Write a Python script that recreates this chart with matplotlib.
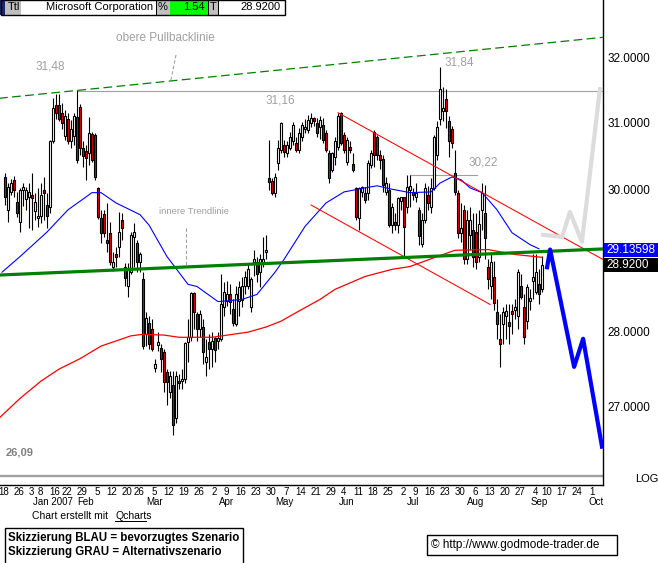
import numpy as np
import pandas as pd
import matplotlib
matplotlib.use('Agg')
import matplotlib.pyplot as plt
from matplotlib.patches import Rectangle
from matplotlib.ticker import NullLocator, NullFormatter

# trading calendar (x axis = trading day index, 0 = 2006-12-18)
holidays = ['2006-12-25', '2007-01-01', '2007-01-02', '2007-01-15', '2007-02-19',
            '2007-04-06', '2007-05-28', '2007-07-04', '2007-09-03']
first_candle = 1  # 2006-12-19

# daily candles Microsoft
opens = [30.19, 29.71, 29.97, 30.15, 29.82, 29.53, 30.00, 29.86, 29.90, 29.93,
         29.70, 29.59, 29.62, 30.00, 29.78, 29.75, 30.72, 31.27, 31.27, 31.15,
         30.80, 31.06, 30.72, 30.80, 31.08, 31.23, 30.62, 30.57, 30.55, 30.83,
         30.81, 30.03, 29.59, 29.65, 29.27, 29.37, 28.89, 29.06, 29.18, 29.57,
         28.89, 28.62, 28.82, 29.32, 29.24, 28.96, 28.72, 27.96, 28.12, 28.03,
         27.51, 27.81, 27.77, 27.72, 27.45, 27.19, 27.28, 26.84, 27.33, 27.33,
         27.36, 27.85, 27.92, 28.53, 28.24, 28.03, 28.06, 27.58, 27.85, 27.76,
         27.91, 27.87, 27.90, 28.33, 28.42, 28.51, 28.31, 28.10, 28.42, 28.43,
         28.62, 28.62, 28.34, 28.97, 28.96, 28.82, 28.95, 29.10, 30.17, 30.13,
         29.96, 30.40, 30.59, 30.66, 30.55, 30.62, 30.72, 30.70, 30.59, 30.79,
         30.90, 30.89, 31.00, 31.05, 31.00, 30.93, 30.97, 30.84, 30.55, 30.29,
         30.49, 30.63, 31.14, 30.81, 30.41, 30.63, 30.38, 30.03, 29.59, 29.97,
         29.96, 29.96, 30.37, 30.86, 30.78, 30.52, 30.46, 29.97, 30.00, 29.49,
         29.53, 29.49, 29.84, 29.89, 29.75, 30.00, 29.96, 29.90, 29.71, 29.22,
         29.56, 29.93, 29.75, 30.03, 30.52, 31.05, 31.18, 31.36, 31.02, 30.90,
         30.25, 29.96, 29.37, 29.71, 29.00, 29.35, 29.42, 29.39, 29.04, 29.71,
         29.66, 28.89, 28.62, 28.75, 28.26, 27.90, 28.10, 28.21, 28.13, 28.28,
         28.30, 28.21, 28.62, 28.33, 28.14, 28.42, 28.69, 28.55, 28.65, 28.58]
highs = [30.25, 30.10, 30.16, 30.20, 29.97, 30.03, 30.10, 30.04, 30.10, 30.25,
         29.96, 30.03, 30.10, 30.19, 29.96, 30.74, 31.38, 31.43, 31.43, 31.30,
         31.19, 31.14, 31.04, 31.14, 31.50, 31.29, 30.72, 30.67, 31.08, 30.86,
         30.84, 30.04, 29.71, 29.71, 29.81, 29.53, 29.10, 29.18, 29.68, 29.66,
         28.95, 28.95, 29.39, 29.52, 29.28, 29.10, 28.82, 28.26, 28.21, 28.17,
         27.63, 27.99, 27.83, 27.76, 27.49, 27.47, 27.47, 27.47, 27.43, 27.49,
         27.86, 28.17, 28.55, 28.55, 28.27, 28.30, 28.17, 27.90, 27.96, 27.99,
         27.93, 27.99, 28.79, 28.68, 28.69, 28.65, 28.44, 28.62, 28.69, 28.75,
         28.83, 28.95, 28.75, 29.14, 29.03, 29.07, 29.32, 29.35, 30.74, 30.17,
         30.25, 30.74, 31.01, 30.74, 30.72, 30.86, 31.01, 30.79, 30.92, 31.01,
         31.06, 31.12, 31.15, 31.08, 31.07, 31.10, 31.07, 30.89, 30.59, 30.56,
         30.79, 31.14, 31.16, 30.86, 30.79, 30.72, 30.55, 30.04, 30.04, 30.06,
         30.04, 30.44, 30.59, 30.89, 30.81, 30.59, 30.52, 30.19, 30.10, 29.81,
         29.66, 29.89, 29.89, 29.90, 30.22, 30.22, 30.03, 30.10, 29.75, 29.66,
         30.10, 30.06, 30.18, 30.81, 31.03, 31.86, 31.55, 31.52, 31.10, 30.95,
         30.59, 30.00, 29.81, 29.78, 29.71, 29.75, 29.66, 29.66, 29.71, 30.10,
         30.07, 29.00, 29.07, 28.98, 28.44, 28.24, 28.34, 28.37, 28.37, 28.37,
         28.44, 28.86, 28.79, 28.51, 28.65, 28.58, 29.07, 29.07, 28.86, 29.05]
lows = [29.78, 29.53, 29.92, 29.90, 29.60, 29.39, 29.76, 29.71, 29.45, 29.42,
        29.56, 29.46, 29.52, 29.56, 29.45, 29.66, 30.69, 31.05, 31.02, 30.90,
        30.74, 30.68, 30.62, 30.67, 30.40, 30.52, 30.34, 30.15, 30.37, 30.41,
        30.15, 29.58, 29.24, 29.32, 29.11, 28.92, 28.84, 28.89, 29.04, 29.28,
        28.62, 28.48, 28.79, 28.89, 28.82, 28.82, 27.76, 27.80, 27.76, 27.74,
        27.45, 27.74, 27.45, 27.19, 27.01, 27.10, 26.62, 26.78, 27.23, 27.23,
        27.30, 27.58, 27.87, 28.03, 27.87, 27.93, 27.56, 27.40, 27.49, 27.52,
        27.58, 27.76, 27.87, 28.21, 28.35, 28.24, 28.07, 28.07, 28.21, 28.33,
        28.51, 28.58, 28.27, 28.76, 28.68, 28.61, 28.89, 29.00, 30.00, 29.93,
        29.90, 30.29, 30.55, 30.49, 30.49, 30.59, 30.67, 30.56, 30.55, 30.72,
        30.84, 30.84, 30.94, 30.95, 30.79, 30.76, 30.70, 30.56, 30.10, 30.26,
        30.37, 30.59, 30.67, 30.55, 30.36, 30.55, 30.27, 29.56, 29.42, 29.90,
        29.81, 29.85, 30.32, 30.34, 30.44, 30.30, 29.97, 29.93, 29.46, 29.37,
        29.42, 29.37, 29.71, 29.04, 29.66, 29.75, 29.85, 29.82, 29.21, 29.18,
        29.52, 29.71, 29.66, 30.00, 30.44, 30.97, 31.02, 30.92, 30.49, 30.62,
        29.93, 29.31, 29.25, 28.93, 28.93, 29.14, 28.89, 28.86, 28.96, 29.42,
        29.00, 28.58, 28.44, 28.30, 27.90, 27.52, 27.83, 27.90, 27.83, 27.96,
        28.17, 28.03, 28.44, 27.83, 28.03, 28.30, 28.44, 28.51, 28.37, 28.55]
closes = [29.90, 30.04, 30.10, 30.00, 29.67, 30.00, 30.04, 30.00, 29.97, 29.88,
          29.82, 29.62, 29.93, 29.96, 29.62, 30.72, 31.22, 31.15, 31.05, 31.00,
          31.10, 30.72, 30.90, 31.10, 30.44, 30.62, 30.50, 30.47, 30.85, 30.44,
          30.19, 29.61, 29.37, 29.37, 29.24, 28.97, 28.96, 29.04, 29.39, 29.45,
          28.74, 28.86, 29.35, 29.39, 28.96, 29.07, 27.80, 28.18, 27.83, 27.76,
          27.56, 27.85, 27.63, 27.32, 27.32, 27.40, 26.75, 27.40, 27.30, 27.36,
          27.84, 27.93, 28.53, 28.26, 28.03, 28.24, 27.72, 27.65, 27.76, 27.87,
          27.75, 27.90, 28.37, 28.55, 28.51, 28.40, 28.12, 28.51, 28.61, 28.62,
          28.75, 28.86, 28.72, 29.01, 28.79, 29.00, 29.00, 29.12, 30.11, 29.96,
          30.19, 30.62, 31.00, 30.56, 30.66, 30.79, 30.97, 30.59, 30.84, 30.97,
          30.94, 31.04, 31.07, 31.03, 30.85, 31.04, 30.74, 30.59, 30.18, 30.55,
          30.72, 31.10, 30.70, 30.59, 30.74, 30.59, 30.29, 29.61, 30.03, 30.04,
          29.85, 30.40, 30.55, 30.52, 30.52, 30.44, 30.07, 30.10, 29.49, 29.75,
          29.49, 29.88, 29.89, 29.46, 30.04, 30.06, 29.93, 29.96, 29.34, 29.56,
          30.03, 29.81, 30.03, 30.79, 30.94, 31.51, 31.22, 31.18, 30.72, 30.70,
          29.97, 29.37, 29.45, 29.00, 29.56, 29.56, 29.04, 28.96, 29.50, 29.96,
          29.30, 28.72, 28.96, 28.39, 28.10, 27.83, 28.26, 28.28, 28.07, 28.24,
          28.33, 28.82, 28.48, 27.93, 28.61, 28.45, 28.75, 28.82, 28.51, 28.92]

# moving averages (index, price)
ma_blue_x = [0, 6, 15, 22, 30, 33, 38, 46, 49, 55, 62, 65, 72, 80, 85, 91, 94,
             101, 108, 114, 121, 125, 130, 136, 143, 146, 150, 153, 156, 160,
             165, 170, 176, 179]
ma_blue_y = [28.82, 29.04, 29.39, 29.71, 29.96, 29.96, 29.81, 29.64, 29.49,
             29.04, 28.65, 28.62, 28.41, 28.44, 28.51, 28.82, 29.00, 29.47,
             29.81, 29.97, 30.03, 30.06, 30.01, 29.96, 29.97, 30.10, 30.19,
             30.15, 30.03, 29.96, 29.71, 29.38, 29.21, 29.15]
ma_red_x = [-1, 6, 13, 19, 26, 33, 43, 47, 54, 59, 70, 82, 88, 93, 99, 106,
            111, 121, 130, 136, 145, 151, 162, 171, 180]
ma_red_y = [26.84, 27.10, 27.33, 27.49, 27.63, 27.80, 27.94, 27.96, 27.95,
            27.92, 27.92, 27.99, 28.06, 28.14, 28.28, 28.44, 28.58, 28.76,
            28.86, 28.90, 29.04, 29.13, 29.14, 29.07, 29.03]

# drawn lines
pullback_x, pullback_y = [-1, 201], [31.37, 32.32]      # obere Pullbacklinie
trend_x, trend_y = [-1, 201], [28.78, 29.15]            # innere Trendlinie
chan_up_x, chan_up_y = [112, 200.3], [31.15, 29.00]
chan_lo_x, chan_lo_y = [103, 162.7], [29.78, 28.37]
blue_x = [181.7, 182.7, 190.7, 193.7, 200]
blue_y = [28.89, 29.14, 27.52, 27.90, 26.47]
grey_x = [180.3, 186.7, 189.3, 193.3, 199.3]
grey_y = [29.35, 29.32, 29.68, 29.25, 31.51]
high_jan, high_jul, mark_jul, low_mark = 31.48, 31.84, 30.22, 26.09

last_price, trend_price = 28.92, 29.13598

month_names = ['Jan 2007', 'Feb', 'Mar', 'Apr', 'May', 'Jun', 'Jul', 'Aug', 'Sep', 'Oct']
month_at = ['2007-01-16', '2007-01-31', '2007-03-06', '2007-04-10', '2007-05-07',
            '2007-06-06', '2007-07-09', '2007-08-07', '2007-09-06', '2007-10-03']

W, H = 658, 563
GREY = '#a0a0a0'
FONT = 'Liberation Sans'
plt.rcParams['font.family'] = [FONT, 'DejaVu Sans']

days = pd.bdate_range('2006-12-18', '2007-10-12', freq='C', holidays=holidays)
week = days.isocalendar().week.values
week_pos = [0] + [k for k in range(1, len(days)) if week[k] != week[k - 1]]
week_pos = [k for k in week_pos if days[k] <= pd.Timestamp('2007-10-01')]
day_index = {d.strftime('%Y-%m-%d'): k for k, d in enumerate(days)}

fig = plt.figure(figsize=(W / 100, H / 100), dpi=100)
ax = fig.add_axes([0, 1 - 485 / H, 603 / W, 485 / H])
ax.set_yscale('log')
ax.set_xlim(-0.667, 200.33)
ax.set_ylim(25.98, 32.91)

# candles
o, h, l, c = map(np.array, (opens, highs, lows, closes))
idx = np.arange(first_candle, first_candle + len(c))
ax.vlines(idx, l, h, color='black', lw=0.8, zorder=3)
lo = np.minimum(o, c)
hi = np.maximum(np.maximum(o, c), lo * 1.0012)
ax.bar(idx, hi - lo, bottom=lo, width=0.72,
       color=np.where(c >= o, 'white', '#e00000'),
       edgecolor='black', linewidth=0.8, zorder=4)

# averages and lines
ax.plot(ma_red_x, ma_red_y, color='#ff0000', lw=0.9, zorder=5)
ax.plot(ma_blue_x, ma_blue_y, color='#0000ff', lw=0.8, zorder=5)
ax.plot(chan_up_x, chan_up_y, color='#ff0000', lw=0.75, zorder=5)
ax.plot(chan_lo_x, chan_lo_y, color='#ff0000', lw=0.75, zorder=5)
ax.plot(pullback_x, pullback_y, color='#008000', lw=0.9, dashes=(7, 3.5), zorder=5)
ax.plot(trend_x, trend_y, color='#008000', lw=2.3, zorder=6)
ax.plot([25, 201], [high_jan, high_jan], color=GREY, lw=0.8, zorder=2)
ax.plot([136, 158.3], [mark_jul, mark_jul], color=GREY, lw=0.8, zorder=2)
ax.plot([-1, 201], [low_mark, low_mark], color=GREY, lw=1.7, zorder=2)
ax.plot(grey_x, grey_y, color='#dcdcdc', lw=3, zorder=6)
ax.plot(blue_x, blue_y, color='#0000ff', lw=3, zorder=7)

# labels in the chart
ax.text(54.3, 32.31, 'obere Pullbacklinie', color=GREY, fontsize=8.5, ha='center', va='center')
ax.plot([58, 56.3], [32.04, 31.65], color=GREY, lw=0.8, dashes=(3, 2))
ax.text(16, 31.86, '31,48', color=GREY, fontsize=8.5, ha='center', va='center')
ax.text(92.7, 31.33, '31,16', color=GREY, fontsize=8.5, ha='center', va='center')
ax.text(152.3, 31.93, '31,84', color=GREY, fontsize=8.5, ha='center', va='center')
ax.text(160.3, 30.41, '30,22', color=GREY, fontsize=8.5, ha='center', va='center')
ax.text(64, 29.69, 'innere Trendlinie', color=GREY, fontsize=6.8, ha='center', va='center')
ax.plot([61.2, 61.2], [29.45, 28.89], color=GREY, lw=0.8, dashes=(3, 2))
ax.text(6, 26.4, '26,09', color='#808080', fontsize=8, fontweight='bold', ha='center', va='center')

# axes styling
for s in ('left', 'top'):
    ax.spines[s].set_visible(False)
ax.spines['right'].set_linewidth(1)
ax.spines['bottom'].set_linewidth(1)
ax.yaxis.tick_right()
ax.yaxis.set_minor_locator(NullLocator())
ax.yaxis.set_minor_formatter(NullFormatter())
yt = [27, 28, 30, 31, 32]
ax.set_yticks(yt)
ax.set_yticklabels(['%.4f' % v for v in yt])
ax.tick_params(axis='y', length=0, pad=3, labelsize=8.5)
ax.set_xticks([k + 0.67 for k in week_pos])
ax.set_xticklabels([str(days[k].day) for k in week_pos])
ax.tick_params(axis='x', length=0, pad=1.5, labelsize=7)
for name, d in zip(month_names, month_at):
    ax.text(day_index[d], -0.0355, name, transform=ax.get_xaxis_transform(),
            fontsize=7, ha='center', va='center', clip_on=False)


def prect(x0, y0, x1, y1, **kw):
    fig.add_artist(Rectangle((x0 / W, 1 - y1 / H), (x1 - x0) / W, (y1 - y0) / H,
                             transform=fig.transFigure, **kw))


def ptext(x, y, s, **kw):
    fig.text(x / W, 1 - y / H, s, va='center', **kw)


# price boxes on the right axis
for price, bg in ((trend_price, '#0000ff'), (last_price, 'black')):
    yp = H - ax.transData.transform((0, price))[1]
    prect(604, yp - 7, 658, yp + 7, facecolor=bg, edgecolor='none')
    ptext(606, yp, ('%.5f' % price) if bg != 'black' else '%.4f' % price,
          color='white', fontsize=8.5)
ptext(635, 479, 'LOG', fontsize=8)

# header bar
cells = [(0, 5, '#1c2a6c'), (5, 21, '#c0c0c0'), (21, 156, 'white'), (156, 170, '#c0c0c0'),
         (170, 208, '#00ff00'), (208, 218, '#c0c0c0'), (218, 285, 'white')]
for x0, x1, col in cells:
    prect(x0, 0, x1, 15, facecolor=col, edgecolor='none')
prect(0.5, 0.5, 285, 15, facecolor='none', edgecolor='black', lw=1)
for xl in (156, 208, 218):
    prect(xl, 0, xl + 0.8, 15, facecolor='black', edgecolor='none')
ptext(8, 7.5, 'Ttl', fontsize=8)
ptext(153, 7.5, 'Microsoft Corporation', fontsize=8, ha='right')
ptext(158, 7.5, '%', fontsize=8)
ptext(205, 7.5, '1.54', fontsize=8, ha='right')
ptext(210, 7.5, 'T', fontsize=8)
ptext(281, 7.5, '28.9200', fontsize=8, ha='right')

# footer
ptext(32, 516, 'Chart erstellt mit', fontsize=7.5)
ptext(115, 516, 'Qcharts', fontsize=7.5)
prect(115, 521, 147, 521.8, facecolor='black', edgecolor='none')
prect(5, 528, 243, 566, facecolor='white', edgecolor='black', lw=1)
ptext(8, 538, 'Skizzierung BLAU = bevorzugtes Szenario', fontsize=8.3, fontweight='bold')
ptext(8, 552, 'Skizzierung GRAU = Alternativszenario', fontsize=8.3, fontweight='bold')
prect(427, 535, 617, 555, facecolor='white', edgecolor='black', lw=1)
ptext(431, 545, '\u00a9 http://www.godmode-trader.de', fontsize=8.5)

fig.savefig('out.png', dpi=100)
